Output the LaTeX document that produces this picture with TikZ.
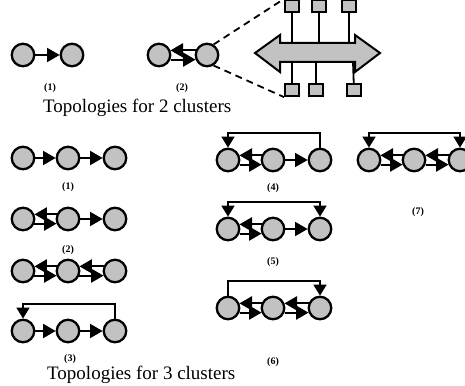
\documentclass[tikz,border=0pt]{standalone}
\usepackage{fontspec}
\setmainfont{Liberation Serif}
\usetikzlibrary{arrows.meta}
\definecolor{fillg}{gray}{0.76}
\tikzset{
  cl/.style={circle,draw,line width=2.3pt,fill=fillg,minimum size=22.5pt,inner sep=0pt},
  sq/.style={rectangle,draw,line width=1.8pt,fill=fillg,minimum width=14pt,minimum height=12.5pt,inner sep=0pt},
  con/.style={line width=1.8pt},
  tri/.tip={Triangle[length=12.5pt,width=14pt]},
  ar/.style={con,-tri},
  fb/.style={con,-{Triangle[length=11pt,width=13pt]}},
  fbb/.style={con,{Triangle[length=11pt,width=13pt]}-{Triangle[length=11pt,width=13pt]}},
  lab/.style={font=\bfseries\fontsize{10}{12}\selectfont,inner sep=0pt},
  ttl/.style={font=\fontsize{19}{22}\selectfont,inner sep=0pt,anchor=base west}
}
\newcommand{\bidi}[2]{%
  \draw[ar] (#2.158) -- (#1.22);
  \draw[ar] (#1.-22) -- (#2.-158);}
\begin{document}
\begin{tikzpicture}[x=1pt,y=-1pt]
\clip (0,0) rectangle (465,385);
\fill[white] (0,0) rectangle (465,385);
% ---------------- 2 clusters
\node[cl] (A1) at (23,55) {};
\node[cl] (A2) at (72,55) {};
\draw[ar] (A1) -- (A2);
\node[lab] (LA) at (50,88) {(1)};
\node[cl] (B1) at (159,55) {};
\node[cl] (B2) at (207,55) {};
\bidi{B1}{B2}
\node[lab] (LB) at (182,88) {(2)};
\node[ttl] (T2) at (43,113) {Topologies for 2 clusters};
% bus
\filldraw[fill=fillg,line width=2pt,line join=miter]
  (255,53) -- (280,35) -- (280,43) -- (355,43) -- (355,35) -- (380,53)
  -- (355,72) -- (355,62) -- (280,62) -- (280,72) -- cycle;
\node[sq] (t1) at (292,6) {};
\node[sq] (t2) at (319,6) {};
\node[sq] (t3) at (349,6) {};
\node[sq] (b1) at (292,90) {};
\node[sq] (b2) at (316,90) {};
\node[sq] (b3) at (354,90) {};
\coordinate (ut1) at (292,43);
\coordinate (ut2) at (319,43);
\coordinate (ut3) at (349,43);
\coordinate (lb1) at (292,62);
\coordinate (lb2) at (316,62);
\coordinate (lb3) at (353,62);
\draw[con] (t1) -- (ut1);
\draw[con] (t2) -- (ut2);
\draw[con] (t3) -- (ut3);
\draw[con] (b1) -- (lb1);
\draw[con] (b2) -- (lb2);
\draw[con] (b3) -- (lb3);
\draw[con,dashed,dash pattern=on 7pt off 5pt] (B2.58) -- (t1.north west);
\draw[con,dashed,dash pattern=on 7pt off 5pt] (B2.-58) -- (b1.south west);
% ---------------- 3 clusters, left column
\node[cl] (P1) at (23,158) {};
\node[cl] (P2) at (68,158) {};
\node[cl] (P3) at (115,158) {};
\draw[ar] (P1) -- (P2);
\draw[ar] (P2) -- (P3);
\node[lab] (L1) at (68,187) {(1)};
\node[cl] (Q1) at (23,219) {};
\node[cl] (Q2) at (68,219) {};
\node[cl] (Q3) at (115,219) {};
\bidi{Q1}{Q2}
\draw[ar] (Q2) -- (Q3);
\node[lab] (L2) at (68,250) {(2)};
\node[cl] (R1) at (23,271) {};
\node[cl] (R2) at (68,271) {};
\node[cl] (R3) at (115,271) {};
\bidi{R1}{R2}
\bidi{R2}{R3}
\node[cl] (S1) at (23,331) {};
\node[cl] (S2) at (68,331) {};
\node[cl] (S3) at (115,331) {};
\draw[ar] (S1) -- (S2);
\draw[ar] (S2) -- (S3);
\draw[fb] (S3.north) -- ++(0,-15) -| (S1.north);
\node[lab] (L3) at (70,359) {(3)};
\node[ttl] (T3) at (47,379) {Topologies for 3 clusters};
% ---------------- right column
\node[cl] (U1) at (228,160) {};
\node[cl] (U2) at (273,160) {};
\node[cl] (U3) at (320,160) {};
\bidi{U1}{U2}
\draw[ar] (U2) -- (U3);
\draw[fb] (U3.north) -- ++(0,-15) -| (U1.north);
\node[lab] (L4) at (273,188) {(4)};
\node[cl] (V1) at (228,229) {};
\node[cl] (V2) at (273,229) {};
\node[cl] (V3) at (320,229) {};
\bidi{V1}{V2}
\draw[ar] (V2) -- (V3);
\draw[fbb] (V1.north) -- ++(0,-15) -| (V3.north);
\node[lab] (L5) at (273,262) {(5)};
\node[cl] (W1) at (228,308) {};
\node[cl] (W2) at (273,308) {};
\node[cl] (W3) at (320,308) {};
\bidi{W1}{W2}
\bidi{W2}{W3}
\draw[fb] (W1.north) -- ++(0,-15) -| (W3.north);
\node[lab] (L6) at (273,362) {(6)};
\node[cl] (X1) at (369,160) {};
\node[cl] (X2) at (414,160) {};
\node[cl] (X3) at (460,160) {};
\bidi{X1}{X2}
\bidi{X2}{X3}
\draw[fbb] (X1.north) -- ++(0,-15) -| (X3.north);
\node[lab] (L7) at (418,212) {(7)};
\end{tikzpicture}
\end{document}
